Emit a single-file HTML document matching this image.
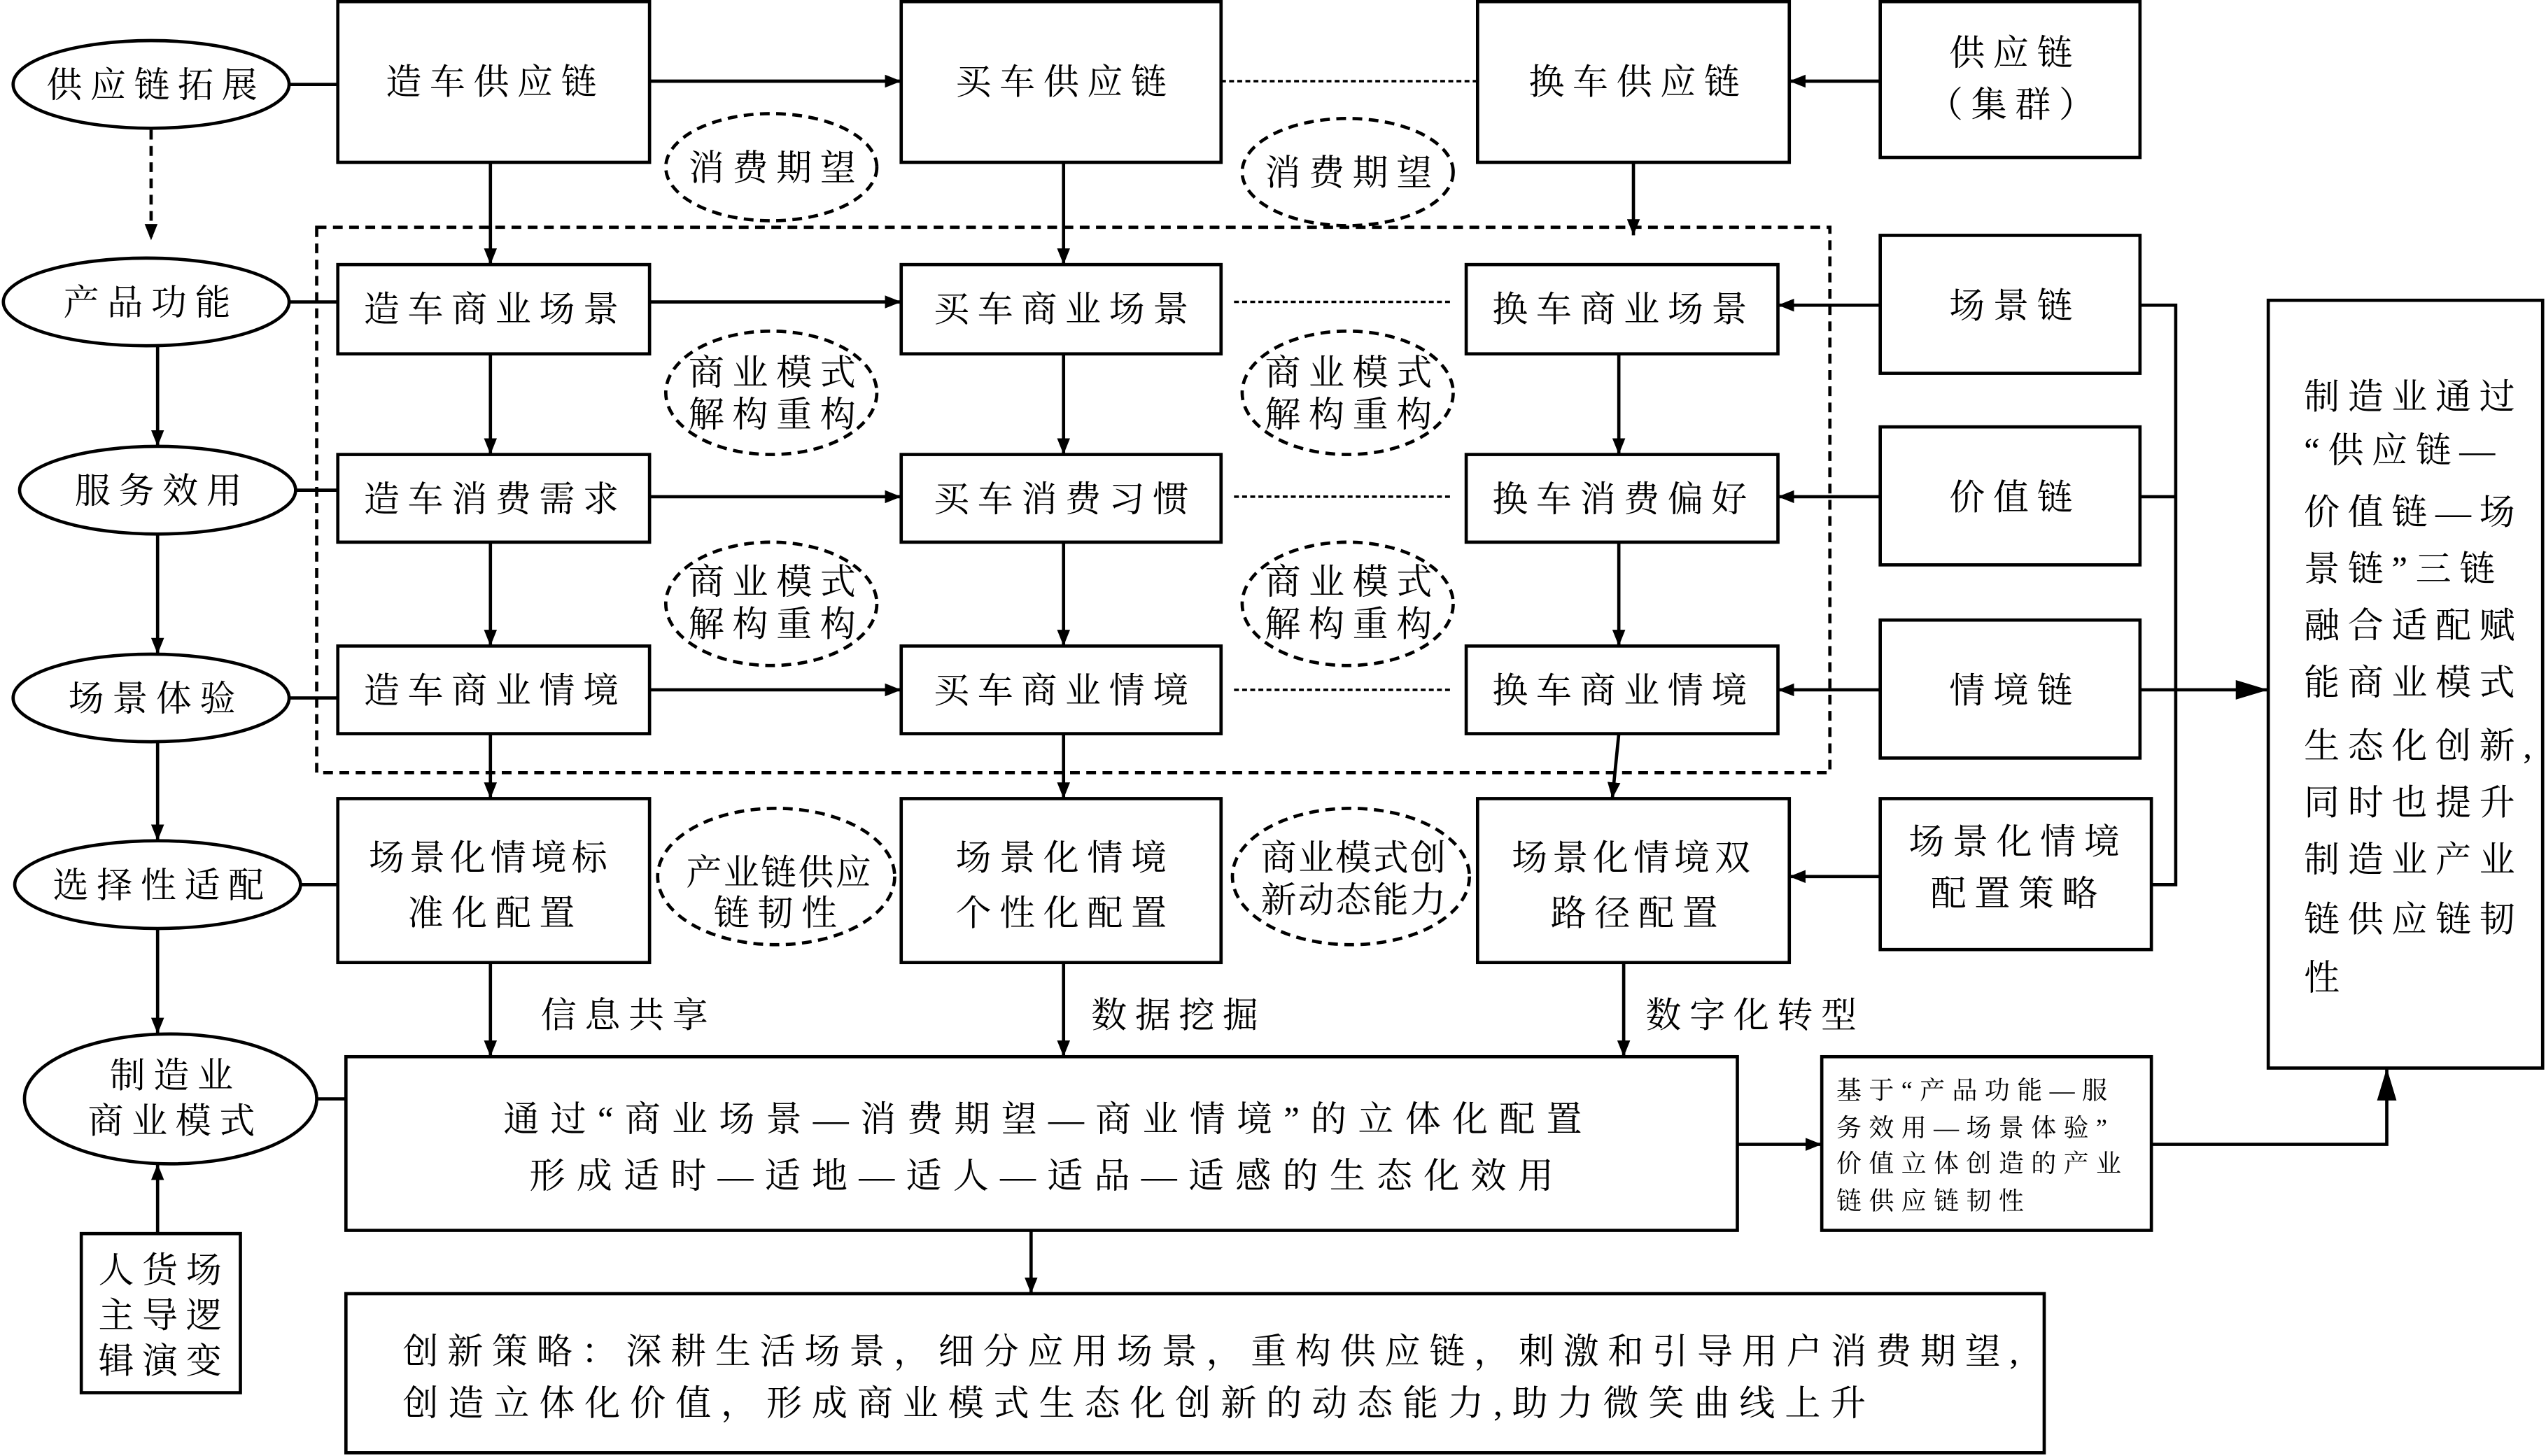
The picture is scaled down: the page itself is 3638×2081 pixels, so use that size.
<!DOCTYPE html>
<html><head><meta charset="utf-8"><style>
html,body{margin:0;padding:0;background:#fff;}
svg{display:block}
text{font-family:"Liberation Serif","Noto Serif CJK SC",serif;fill:#000;}
</style></head><body>
<svg width="3638" height="2081" viewBox="0 0 1568 897" xmlns="http://www.w3.org/2000/svg">
<defs><marker id="a" markerWidth="10" markerHeight="8" refX="10" refY="4" orient="auto" markerUnits="userSpaceOnUse"><path d="M0,0 L10,4 L0,8 z" fill="#000"/></marker>
<marker id="b" markerWidth="20" markerHeight="12" refX="20" refY="6" orient="auto" markerUnits="userSpaceOnUse"><path d="M0,0 L20,6 L0,12 z" fill="#000"/></marker></defs>
<g fill="none" stroke="#000" stroke-width="2">
<ellipse cx="93" cy="52" rx="85" ry="27"/>
<ellipse cx="90" cy="186" rx="88" ry="27"/>
<ellipse cx="97" cy="302" rx="85" ry="27"/>
<ellipse cx="93" cy="430" rx="85" ry="27"/>
<ellipse cx="97" cy="545" rx="88" ry="27"/>
<ellipse cx="105" cy="677" rx="90" ry="40"/>
<rect x="50" y="760" width="98" height="98"/>
<rect x="208" y="1" width="192" height="99"/>
<rect x="555" y="1" width="197" height="99"/>
<rect x="910" y="1" width="192" height="99"/>
<rect x="1158" y="1" width="160" height="96"/>
<g stroke-dasharray="6,4">
<ellipse cx="475" cy="103" rx="65" ry="33"/>
<ellipse cx="830" cy="106" rx="65" ry="33"/>
<rect x="195" y="140" width="932" height="336"/>
<ellipse cx="475" cy="242" rx="65" ry="38"/>
<ellipse cx="830" cy="242" rx="65" ry="38"/>
<ellipse cx="475" cy="372" rx="65" ry="38"/>
<ellipse cx="830" cy="372" rx="65" ry="38"/>
<ellipse cx="478" cy="540" rx="73" ry="42"/>
<ellipse cx="832" cy="540" rx="73" ry="42"/>
<line x1="93" y1="80" x2="93" y2="148" marker-end="url(#a)"/>
</g>
<g stroke-dasharray="3,2" stroke-width="1.5">
<line x1="752" y1="50" x2="910" y2="50"/>
<line x1="760" y1="186" x2="895" y2="186"/>
<line x1="760" y1="306" x2="895" y2="306"/>
<line x1="760" y1="425" x2="895" y2="425"/>
</g>
<rect x="208" y="163" width="192" height="55"/>
<rect x="555" y="163" width="197" height="55"/>
<rect x="903" y="163" width="192" height="55"/>
<rect x="1158" y="145" width="160" height="85"/>
<rect x="208" y="280" width="192" height="54"/>
<rect x="555" y="280" width="197" height="54"/>
<rect x="903" y="280" width="192" height="54"/>
<rect x="1158" y="263" width="160" height="85"/>
<rect x="208" y="398" width="192" height="54"/>
<rect x="555" y="398" width="197" height="54"/>
<rect x="903" y="398" width="192" height="54"/>
<rect x="1158" y="382" width="160" height="85"/>
<rect x="208" y="492" width="192" height="101"/>
<rect x="555" y="492" width="197" height="101"/>
<rect x="910" y="492" width="192" height="101"/>
<rect x="1158" y="492" width="167" height="93"/>
<rect x="1397" y="185" width="169" height="473"/>
<rect x="213" y="651" width="857" height="107"/>
<rect x="1122" y="651" width="203" height="107"/>
<rect x="213" y="797" width="1046" height="98"/>
<line x1="178" y1="52" x2="208" y2="52"/>
<line x1="400" y1="50" x2="555" y2="50" marker-end="url(#a)"/>
<line x1="1158" y1="50" x2="1102" y2="50" marker-end="url(#a)"/>
<line x1="178" y1="186" x2="208" y2="186"/>
<line x1="182" y1="302" x2="208" y2="302"/>
<line x1="178" y1="430" x2="208" y2="430"/>
<line x1="185" y1="545" x2="208" y2="545"/>
<line x1="195" y1="677" x2="213" y2="677"/>
<line x1="97" y1="213" x2="97" y2="275" marker-end="url(#a)"/>
<line x1="97" y1="329" x2="97" y2="403" marker-end="url(#a)"/>
<line x1="97" y1="457" x2="97" y2="518" marker-end="url(#a)"/>
<line x1="97" y1="572" x2="97" y2="637" marker-end="url(#a)"/>
<line x1="97" y1="760" x2="97" y2="717" marker-end="url(#a)"/>
<line x1="400" y1="186" x2="555" y2="186" marker-end="url(#a)"/>
<line x1="400" y1="306" x2="555" y2="306" marker-end="url(#a)"/>
<line x1="400" y1="425" x2="555" y2="425" marker-end="url(#a)"/>
<line x1="1158" y1="188" x2="1095" y2="188" marker-end="url(#a)"/>
<line x1="1158" y1="306" x2="1095" y2="306" marker-end="url(#a)"/>
<line x1="1158" y1="425" x2="1095" y2="425" marker-end="url(#a)"/>
<line x1="1158" y1="540" x2="1102" y2="540" marker-end="url(#a)"/>
<line x1="302" y1="100" x2="302" y2="163" marker-end="url(#a)"/>
<line x1="655" y1="100" x2="655" y2="163" marker-end="url(#a)"/>
<line x1="1006" y1="100" x2="1006" y2="145" marker-end="url(#a)"/>
<line x1="302" y1="218" x2="302" y2="280" marker-end="url(#a)"/>
<line x1="655" y1="218" x2="655" y2="280" marker-end="url(#a)"/>
<line x1="997" y1="218" x2="997" y2="280" marker-end="url(#a)"/>
<line x1="302" y1="334" x2="302" y2="398" marker-end="url(#a)"/>
<line x1="655" y1="334" x2="655" y2="398" marker-end="url(#a)"/>
<line x1="997" y1="334" x2="997" y2="398" marker-end="url(#a)"/>
<line x1="302" y1="452" x2="302" y2="492" marker-end="url(#a)"/>
<line x1="655" y1="452" x2="655" y2="492" marker-end="url(#a)"/>
<line x1="997" y1="452" x2="993" y2="492" marker-end="url(#a)"/>
<line x1="302" y1="593" x2="302" y2="651" marker-end="url(#a)"/>
<line x1="655" y1="593" x2="655" y2="651" marker-end="url(#a)"/>
<line x1="1000" y1="593" x2="1000" y2="651" marker-end="url(#a)"/>
<line x1="635" y1="758" x2="635" y2="797" marker-end="url(#a)"/>
<line x1="1070" y1="705" x2="1122" y2="705" marker-end="url(#a)"/>
<polyline points="1325,705 1470,705 1470,658" marker-end="url(#b)"/>
<polyline points="1318,188 1340,188 1340,545 1325,545"/>
<line x1="1318" y1="306" x2="1340" y2="306"/>
<line x1="1318" y1="425" x2="1397" y2="425" marker-end="url(#b)"/>
</g>
<g font-size="22" text-anchor="middle" letter-spacing="5">
<text x="96" y="60">供应链拓展</text>
<text x="93" y="194">产品功能</text>
<text x="100" y="310">服务效用</text>
<text x="96" y="438">场景体验</text>
<text x="100" y="553">选择性适配</text>
<text x="108" y="670">制造业</text><text x="108" y="698">商业模式</text>
<text x="101" y="790">人货场</text><text x="101" y="818">主导逻</text><text x="101" y="846">辑演变</text>
<text x="305" y="58">造车供应链</text>
<text x="656" y="58">买车供应链</text>
<text x="1009" y="58">换车供应链</text>
<text x="1241" y="40">供应链</text><text x="1241" y="72">（集群）</text>
<text x="478" y="111">消费期望</text>
<text x="833" y="114">消费期望</text>
<text x="305" y="198">造车商业场景</text>
<text x="656" y="198">买车商业场景</text>
<text x="1000" y="198">换车商业场景</text>
<text x="1241" y="196">场景链</text>
<text x="305" y="315">造车消费需求</text>
<text x="656" y="315">买车消费习惯</text>
<text x="1000" y="315">换车消费偏好</text>
<text x="1241" y="314">价值链</text>
<text x="305" y="433">造车商业情境</text>
<text x="656" y="433">买车商业情境</text>
<text x="1000" y="433">换车商业情境</text>
<text x="1241" y="433">情境链</text>
<text x="478" y="237">商业模式</text><text x="478" y="263">解构重构</text>
<text x="833" y="237">商业模式</text><text x="833" y="263">解构重构</text>
<text x="478" y="366">商业模式</text><text x="478" y="392">解构重构</text>
<text x="833" y="366">商业模式</text><text x="833" y="392">解构重构</text>
<text x="302" y="536" letter-spacing="3">场景化情境标</text><text x="305" y="570">准化配置</text>
<text x="656" y="536">场景化情境</text><text x="656" y="570">个性化配置</text>
<text x="1006" y="536" letter-spacing="3">场景化情境双</text><text x="1009" y="570">路径配置</text>
<text x="1243" y="526">场景化情境</text><text x="1243" y="558">配置策略</text>
<text x="480" y="545" letter-spacing="1">产业链供应</text><text x="480" y="570">链韧性</text>
<text x="834" y="536" letter-spacing="1">商业模式创</text><text x="834" y="562" letter-spacing="1">新动态能力</text>
<text x="387" y="633">信息共享</text>
<text x="726" y="633">数据挖掘</text>
<text x="1081" y="633">数字化转型</text>
</g>
<g font-size="22">
<text x="310" y="697" letter-spacing="7">通过“商业场景—消费期望—商业情境”的立体化配置</text>
<text x="326" y="732" letter-spacing="7">形成适时—适地—适人—适品—适感的生态化效用</text>
</g>
<g font-size="22" letter-spacing="5">
<text x="1419" y="252">制造业通过</text>
<text x="1419" y="285">“供应链—</text>
<text x="1419" y="323">价值链—场</text>
<text x="1419" y="358">景链”三链</text>
<text x="1419" y="393">融合适配赋</text>
<text x="1419" y="428">能商业模式</text>
<text x="1419" y="467">生态化创新,</text>
<text x="1419" y="502">同时也提升</text>
<text x="1419" y="537">制造业产业</text>
<text x="1419" y="574">链供应链韧</text>
<text x="1419" y="610">性</text>
</g>
<g font-size="22" letter-spacing="5.5">
<text x="248" y="840">创新策略：深耕生活场景，细分应用场景，重构供应链，刺激和引导用户消费期望,</text>
<text x="248" y="872" letter-spacing="6">创造立体化价值，形成商业模式生态化创新的动态能力,助力微笑曲线上升</text>
</g>
<g font-size="15.5" letter-spacing="4.5">
<text x="1131" y="677">基于“产品功能—服</text>
<text x="1131" y="700">务效用—场景体验”</text>
<text x="1131" y="722">价值立体创造的产业</text>
<text x="1131" y="745">链供应链韧性</text>
</g>
</svg>
</body></html>
